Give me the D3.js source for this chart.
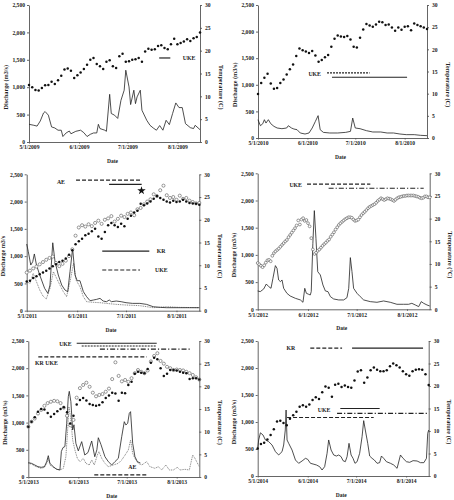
<!DOCTYPE html>
<html><head><meta charset="utf-8">
<script src="https://cdn.jsdelivr.net/npm/d3@7"></script>
<style>
body{margin:0;background:#fff}
svg{display:block}
text{font-family:"Liberation Serif","Times New Roman",serif;font-weight:bold;fill:#222}
</style>
</head><body>
<svg id="c" width="454" height="500"></svg>
<script>
// ---------- shared tick values ----------
const monthIdx = [4, 5, 6, 7];               // May, Jun, Jul, Aug
const qTicks = [0, 500, 1000, 1500, 2000, 2500];
const tTicks = [0, 5, 10, 15, 20, 25, 30];

// ---------- temperature series (values every `step` days from May 1) ----------
const T2009 = [12.5,12.0,11.4,11.3,11.8,12.4,12.5,13.2,12.7,13.5,14.5,15.9,16.1,15.6,14.0,14.6,15.2,16.0,16.9,18.0,18.4,17.1,16.6,16.0,17.6,17.9,16.6,16.2,18.8,19.3,17.6,17.7,18.0,18.1,18.4,17.6,19.8,20.4,20.2,20.3,21.0,21.2,20.6,20.3,21.4,22.6,21.4,21.7,22.0,22.5,22.1,22.7,23.0,24.0];
const T2010 = [9.9,12.4,13.6,14.5,12.3,11.1,11.3,12.4,13.2,14.3,15.5,16.6,18.5,20.2,19.8,19.5,19.2,19.6,18.6,17.2,17.6,18.2,18.7,20.6,22.4,23.1,22.9,22.8,23.0,22.2,20.6,20.4,22.6,24.5,25.7,25.4,25.1,25.6,26.2,26.1,25.5,25.6,24.9,24.2,24.9,24.4,25.1,25.2,24.3,25.8,25.5,25.2,24.9,24.6];
const T2011open = [8.4,8.8,9.3,9.7,10.2,10.7,11.2,11.6,11.9,10.5,9.8,10.3,11.0,12.0,13.5,16.5,18.3,18.8,18.5,19.0,18.6,19.3,19.8,19.1,20.0,20.3,20.8,19.6,20.2,20.9,20.6,21.3,21.6,21.0,22.3,22.6,23.4,24.0,24.5,25.6,25.2,26.5,27.5,25.4,24.8,25.0,24.4,25.3,24.6,24.8,24.2,23.9,23.6,23.7];
const T2011filled = [6.4,6.6,7.2,7.6,8.0,8.4,8.8,9.3,9.8,10.2,10.7,11.0,11.5,12.3,13.3,14.6,15.3,15.8,16.6,16.9,17.5,18.0,16.3,15.8,17.3,18.8,19.3,18.8,18.4,19.1,18.6,20.2,20.9,21.6,22.0,23.5,23.2,23.6,24.0,24.6,25.2,24.8,24.4,24.0,23.8,24.2,23.9,24.0,24.4,24.0,23.7,23.6,23.5,23.3];
const T2012 = [10.2,9.9,9.6,9.3,9.7,10.3,10.8,10.9,10.6,11.8,12.4,12.8,13.1,13.4,13.8,14.2,14.6,15.0,15.3,15.9,16.4,16.9,17.4,17.9,18.5,19.6,18.7,19.8,20.1,19.5,19.7,19.0,18.3,15.7,13.2,12.2,12.5,12.9,13.2,13.6,14.0,14.4,14.7,15.1,15.4,16.0,16.5,17.0,17.6,18.1,18.6,19.0,19.3,19.6,19.9,20.1,20.3,20.3,20.2,19.8,19.5,19.6,19.8,20.3,20.8,21.2,21.5,21.9,22.3,22.6,22.8,23.0,23.2,23.5,23.9,24.2,24.5,24.3,24.1,24.3,24.5,24.4,24.3,24.1,23.9,24.2,24.5,24.7,24.8,24.9,25.0,25.0,25.1,25.1,25.1,25.1,25.1,25.0,24.9,24.8,24.6,24.5,24.6,24.9,24.9,24.7,24.7];
const T2013open = [11.1,12.2,12.9,14.0,14.8,15.7,16.3,16.6,16.8,16.7,16.3,15.3,13.5,11.4,12.6,17.5,19.6,20.3,20.8,19.9,18.6,17.8,18.1,18.3,18.8,19.5,21.6,25.3,22.3,21.1,21.4,21.0,21.8,22.9,23.6,23.2,22.9,23.5,25.5,26.7,27.3,25.6,25.0,24.3,24.0,23.6,23.7,23.6,23.5,23.2,22.9,22.5,22.0,21.5];
const T2013filled = [11.1,12.2,13.2,14.4,15.0,14.9,14.1,13.3,13.9,14.5,15.0,15.4,14.3,11.8,13.5,16.0,17.0,17.4,16.9,16.1,15.9,15.7,15.9,16.5,17.4,18.0,18.6,18.4,16.8,18.6,18.5,20.3,21.0,22.8,23.2,23.0,22.9,23.8,25.2,26.3,26.0,24.0,22.3,22.8,23.6,23.6,23.5,23.2,23.0,22.9,21.6,21.8,21.8,21.5];
const T2014 = [6.1,7.1,7.4,8.1,9.1,10.4,12.1,12.3,11.8,11.3,12.7,13.5,14.3,15.4,15.7,15.4,15.9,16.9,17.5,17.1,18.6,19.9,19.6,17.6,20.3,20.5,19.8,20.1,19.8,19.6,21.2,23.2,23.5,20.7,21.9,23.5,24.1,23.6,23.3,23.3,23.5,24.4,25.0,24.6,24.1,23.3,22.6,22.3,23.3,23.6,23.7,23.6,22.6,20.2];

// ---------- discharge series: [days after May 1, m3/s] ----------
const Q2009 = [[0,323],[3,305],[5,290],[7,384],[9,530],[10,555],[12,490],[14,275],[16,256],[18,215],[20,215],[21,100],[23,165],[25,200],[26,150],[29,195],[32,215],[34,170],[36,100],[38,140],[40,165],[42,165],[43,323],[44,245],[47,215],[48,195],[50,870],[51,520],[53,490],[55,430],[57,760],[59,945],[60,1310],[62,1005],[63,683],[65,945],[66,700],[67,823],[69,945],[70,580],[73,396],[75,305],[77,256],[79,215],[81,300],[83,215],[85,396],[87,317],[89,518],[91,713],[93,628],[95,628],[97,335],[100,262],[102,245],[103,305],[106,225]];
const Q2010 = [[0,344],[1.5,231],[3,269],[4,344],[5,281],[6.5,344],[8,269],[10,219],[12,188],[15,175],[18,188],[19,231],[21,188],[22.5,169],[24.5,156],[26.5,94],[29.5,75],[32,94],[34,188],[36,313],[37.7,420],[39,156],[41,106],[45,94],[50,94],[55,106],[58,125],[59.4,375],[61,188],[64,175],[68,138],[72,113],[77,113],[81,94],[85,94],[89,75],[93,63],[98,63],[102,50],[106,44]];
const Q2011solid = [[0,1222],[1,1080],[2.5,837],[3.7,898],[4.7,1040],[6,837],[8,654],[11,410],[13,318],[14.3,470],[16,1245],[17.4,898],[19.4,654],[21.5,470],[23.5,379],[25.2,348],[26.6,715],[28.2,1140],[29.7,654],[31,550],[32.7,550],[34.8,348],[36.8,257],[38.9,183],[41,196],[43,208],[45,226],[47,177],[49,165],[50.7,196],[52,165],[55,177],[58,165],[61,147],[65,134],[69.5,134],[73.6,116],[77.7,73],[82,61],[86,55],[94,55],[100,55],[106,55]];
const Q2011dotted = [[0,532],[2,501],[4,685],[6,532],[8,379],[10,269],[12,214],[14.3,410],[16.4,715],[18.4,593],[20.4,470],[22.5,348],[24.5,257],[26.6,532],[28.8,870],[30.3,562],[32.7,440],[34.8,257],[36.8,165],[41,153],[45,147],[49,134],[55,116],[61,104],[69.5,92],[77.7,55],[86,73],[94,61],[106,55]];
const Q2012 = [[0,337],[1.6,325],[3.7,374],[5.3,465],[6.8,417],[8.2,386],[9.4,570],[10.9,803],[11.9,754],[12.9,539],[14,509],[15,539],[16,386],[18,294],[20,245],[23.2,202],[26.3,172],[27.9,129],[29,386],[30,294],[31.4,276],[32.4,263],[33,325],[34,1213],[34.9,1814],[35.9,1305],[37,692],[38.6,631],[40.2,447],[41.7,337],[43.3,325],[44.8,233],[46.8,190],[49.9,172],[53,172],[55,214],[56.1,386],[57.1,950],[58.1,692],[59.1,386],[61.2,294],[63.2,233],[65.3,172],[69.4,141],[73.5,129],[77.6,153],[81.7,129],[85.8,92],[89.9,92],[93,92],[95,110],[97.1,80],[99.2,49],[100.8,141],[102.3,110],[104.3,80],[106,61]];
const Q2013solid = [[0,263],[2,251],[4,221],[6,190],[8,178],[10,190],[11.4,282],[12.4,392],[13.4,251],[15.5,190],[17.6,141],[19.6,129],[20.5,470],[21.5,540],[22.7,560],[23.8,987],[24.8,1477],[25.4,1575],[26.4,1385],[27.5,864],[28.3,960],[29.5,619],[31,480],[33.1,650],[35,404],[37,450],[39.3,662],[41.2,373],[42.5,500],[43.4,722],[45,600],[47.5,374],[49.6,282],[51.7,221],[53.7,282],[55.8,343],[57.9,741],[59.5,1017],[60.5,956],[61.6,987],[62.6,1170],[63.4,1201],[64.7,619],[66.1,374],[67.6,282],[69.5,257]];
const Q2013dotted = [[0,251],[2,239],[4,202],[6,178],[8,159],[10,178],[11.4,251],[12.4,343],[13.4,221],[16.5,159],[19.6,129],[21.7,159],[23.3,374],[24.4,864],[25.2,1290],[26.2,1109],[27.5,680],[28.9,496],[30.4,343],[32,282],[34.1,343],[35.7,251],[37.8,221],[39.3,313],[40.9,221],[42.8,404],[43.8,466],[45.5,343],[47.5,251],[49.6,190],[52.7,221],[55.8,251],[57.9,313],[60,404],[62,496],[63.4,680],[64.7,435],[66.1,343],[68.2,251],[70.3,221],[73.4,282],[75.4,190],[78.5,159],[80.6,190],[82.6,129],[85.3,221],[87.4,129],[89.9,129],[92.4,178],[94,129],[97.1,141],[99.8,129],[101.9,404],[103.3,343],[106,190]];
const Q2014 = [[0,512],[0.6,667],[1.7,800],[3.3,759],[4.8,667],[6.8,636],[8.9,574],[11,451],[13,389],[15.1,451],[16.1,574],[17.1,852],[17.6,1222],[18.2,667],[19.2,605],[21.3,481],[23.4,296],[25.4,235],[27.5,278],[29.6,327],[31,309],[32.7,235],[34.3,222],[36.4,204],[38.4,173],[39.9,111],[41.5,173],[43,420],[44,667],[45.5,481],[47.1,389],[48.8,370],[50.2,389],[51.7,358],[52.9,284],[54.3,265],[55.4,358],[56.6,605],[57.9,389],[59.1,327],[60.3,235],[61.6,265],[63.2,420],[64.7,728],[65.7,1025],[66.7,852],[68.2,605],[69.4,370],[70.9,327],[72.3,296],[74,235],[75.6,247],[76.7,370],[78.1,327],[79.8,265],[82.3,235],[84.3,204],[86.4,142],[88.5,389],[90.1,327],[92.2,265],[94.2,253],[96.3,284],[98.8,278],[100.9,247],[103,247],[104.6,327],[105.4,790],[106,852]];

// ---------- study-period bars: [start day, end day, y in temperature units, style] ----------
const bars2009 = [[80.7,87.6,18.4,"solid"]];
const bars2010 = [[43.3,70,14.7,"fine"],[46.4,93.5,13.7,"solid"]];
const bars2011 = [[30.3,70.6,28.7,"dash"],[50.6,70.6,27.8,"solid"],[46.4,75.3,13.1,"solid"],[46.4,69.6,8.95,"dash"]];
const bars2012 = [[30.4,69.4,27.6,"dash"],[43.7,102.3,26.7,"dashdot"]];
const bars2013 = [[30,79.6,29.5,"solid"],[33.1,79.6,28.9,"fine"],[44.4,100.2,28.2,"dashdot"],[6.2,73.4,26.5,"dash"],[40.9,73.4,0.45,"dash"]];
const bars2014 = [[32.6,52.3,28.4,"dash"],[58.5,102.5,28.4,"solid"],[51.2,75.6,15,"solid"],[49.2,105,13.9,"dashdot"],[18.2,71.9,13,"dash"]];

// ---------- labels: [day, temperature-units y, text, anchor] ----------
const labels2009 = [[95.3,18.4,"UKE","start"]];
const labels2010 = [[39.5,14.4,"UKE","end"]];
const labels2011 = [[23.5,28.3,"AE","end"],[79.9,13.1,"KR","start"],[78.8,8.95,"UKE","start"]];
const labels2012 = [[27.3,27.4,"UKE","end"]];
const labels2013 = [[26.9,29.3,"UKE","end"],[4.2,25.1,"KR UKE","start"],[62,2.3,"AE","start"]];
const labels2014 = [[23.3,28.4,"KR","end"],[45,14.7,"UKE","end"]];

const panels = [
  {year:2009, box:[29,200,5,142], yl:"Discharge (m3/s)", yr:"Temperature (C)",
   temps:[{v:T2009,step:2,kind:"filled"}], flows:[{p:Q2009,kind:"solid"}], bars:bars2009, labels:labels2009},
  {year:2010, box:[258,427,5,138], yl:"Discharge (m3/s)", yr:"Temperature (C)",
   temps:[{v:T2010,step:2,kind:"filled"}], flows:[{p:Q2010,kind:"solid"}], bars:bars2010, labels:labels2010},
  {year:2011, box:[26.7,199.3,174.3,310.7], yl:"Discharge m3/s", yr:"Temperature (C)",
   temps:[{v:T2011open,step:2,kind:"open"},{v:T2011filled,step:2,kind:"filled"}],
   flows:[{p:Q2011dotted,kind:"dotted"},{p:Q2011solid,kind:"solid"}], bars:bars2011, labels:labels2011, star:[70.5,26.4]},
  {year:2012, box:[257.7,429.7,173.3,309.3], yl:"Discharge (m3/s)", yr:"Temperature (°C)",
   temps:[{v:T2012,step:1,kind:"open",r:1.4}], flows:[{p:Q2012,kind:"solid"}], bars:bars2012, labels:labels2012},
  {year:2013, box:[28.3,199.3,341,477], yl:"Discharge (m3/s)", yr:"Temperature (C)",
   temps:[{v:T2013open,step:2,kind:"open"},{v:T2013filled,step:2,kind:"filled"}],
   flows:[{p:Q2013dotted,kind:"dotted"},{p:Q2013solid,kind:"solid"}], bars:bars2013, labels:labels2013},
  {year:2014, box:[257.7,428.7,341,476], yl:"Discharge (m3/s)", yr:"Temperature (C)",
   temps:[{v:T2014,step:2,kind:"filled"}], flows:[{p:Q2014,kind:"solid"}], bars:bars2014, labels:labels2014}
];

const dash = {solid:null, dash:"4,2", fine:"2,1", dashdot:"5,2,1.2,2"};
const svg = d3.select("#c");

panels.forEach(p => {
  const [x0,x1,yTop,yBot] = p.box;
  const start = Date.UTC(p.year,4,1);
  const dayDate = d => new Date(start + d*864e5);
  const x = d3.scaleUtc().domain([dayDate(0), new Date(Date.UTC(p.year,7,15))]).range([x0,x1]);
  const yQ = d3.scaleLinear().domain([0,2500]).range([yBot,yTop]);
  const yT = d3.scaleLinear().domain([0,30]).range([yBot,yTop]);
  const g = svg.append("g");

  // axes
  const axStyle = sel => {
    sel.selectAll("path,line").attr("stroke","#555").attr("stroke-width",0.9);
    sel.selectAll("text").style("font-size","5.6px").attr("fill","#222");
  };
  g.append("g").attr("transform",`translate(${x0},0)`)
    .call(d3.axisLeft(yQ).tickValues(qTicks).tickFormat(d3.format(",")).tickSize(2).tickSizeOuter(0).tickPadding(2))
    .call(axStyle);
  g.append("g").attr("transform",`translate(${x1},0)`)
    .call(d3.axisRight(yT).tickValues(tTicks).tickSize(2).tickSizeOuter(0).tickPadding(3))
    .call(axStyle);
  g.append("g").attr("transform",`translate(0,${yBot})`)
    .call(d3.axisBottom(x).tickValues(monthIdx.map(m=>new Date(Date.UTC(p.year,m,1))))
      .tickFormat(d3.utcFormat("%-m/%-d/%Y")).tickSize(1.5).tickSizeOuter(0).tickPadding(2))
    .call(axStyle);

  // axis titles
  const h = yBot - yTop, cy = yBot - 0.4*h;
  g.append("text").attr("transform",`translate(${x0-21.5},${cy}) rotate(-90)`)
    .attr("text-anchor","middle").style("font-size","6.2px").text(p.yl);
  g.append("text").attr("transform",`translate(${x1+18.5},${cy}) rotate(90)`)
    .attr("text-anchor","middle").style("font-size","6.2px").text(p.yr);
  g.append("text").attr("x",(x0+x1)/2-2).attr("y",yBot+21)
    .attr("text-anchor","middle").style("font-size","5.5px").text("Date");

  // discharge lines
  const line = d3.line().x(d=>x(dayDate(d[0]))).y(d=>yQ(d[1]));
  p.flows.forEach(f => {
    g.append("path").datum(f.p).attr("d",line).attr("fill","none")
      .attr("stroke", f.kind==="dotted" ? "#777" : "#222")
      .attr("stroke-width", f.kind==="dotted" ? 0.9 : 0.8)
      .attr("stroke-dasharray", f.kind==="dotted" ? "1,0.8" : null);
  });

  // temperature markers
  p.temps.forEach(t => {
    const pts = t.v.map((v,i)=>[i*t.step, v]);
    g.append("g").selectAll("circle").data(pts).join("circle")
      .attr("cx",d=>x(dayDate(d[0]))).attr("cy",d=>yT(d[1]))
      .attr("r", t.r || (t.kind==="open" ? 1.55 : 1.25))
      .attr("fill", t.kind==="open" ? "#fff" : "#111")
      .attr("stroke", t.kind==="open" ? "#555" : "none")
      .attr("stroke-width", 0.6);
  });

  // study bars
  p.bars.forEach(b => {
    g.append("line").attr("x1",x(dayDate(b[0]))).attr("x2",x(dayDate(b[1])))
      .attr("y1",yT(b[2])).attr("y2",yT(b[2]))
      .attr("stroke","#222").attr("stroke-width",1.2)
      .attr("stroke-dasharray",dash[b[3]]);
  });
  p.labels.forEach(l => {
    g.append("text").attr("x",x(dayDate(l[0]))).attr("y",yT(l[1]))
      .attr("dy","0.35em").attr("text-anchor",l[3]).style("font-size","5.8px").text(l[2]);
  });
  if (p.star) {
    g.append("path").attr("d",d3.symbol(d3.symbolStar,22)())
      .attr("transform",`translate(${x(dayDate(p.star[0]))},${yT(p.star[1])})`).attr("fill","#111");
  }
});
</script>
</body></html>
